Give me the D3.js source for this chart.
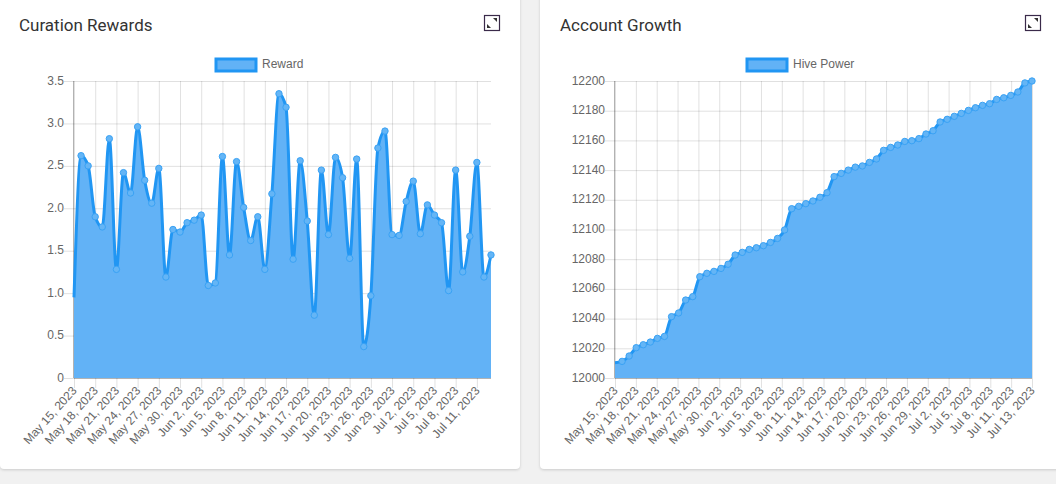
<!DOCTYPE html>
<html>
<head>
<meta charset="utf-8">
<script src="https://cdnjs.cloudflare.com/ajax/libs/d3/7.8.5/d3.min.js"></script>
<style>
html, body { margin: 0; padding: 0; background: #f1f1f1; overflow: hidden; }
.card { position: absolute; top: -10px; height: 479px; background: #fff; border-radius: 4px; box-shadow: 0 1px 3px rgba(0,0,0,0.16); }
svg { position: absolute; left: 0; top: 0; }
</style>
</head>
<body>
<div class="card" style="left:0;width:520px"></div>
<div class="card" style="left:540px;width:530px"></div>
<script>
const rewardValues = [
    0.95, 2.62, 2.50, 1.90, 1.78, 2.82, 1.28, 2.42, 2.18, 2.96,
    2.33, 2.06, 2.47, 1.19, 1.75, 1.72, 1.83, 1.86, 1.92, 1.09,
    1.12, 2.61, 1.45, 2.55, 2.01, 1.62, 1.90, 1.28, 2.17, 3.35,
    3.19, 1.40, 2.56, 1.85, 0.74, 2.45, 1.69, 2.60, 2.36, 1.41,
    2.58, 0.37, 0.97, 2.71, 2.91, 1.69, 1.68, 2.08, 2.32, 1.70,
    2.04, 1.92, 1.83, 1.03, 2.45, 1.25, 1.67, 2.54, 1.19, 1.45
];
const powerValues = [
    12010.3, 12011.2, 12014.8, 12020.4, 12022.4, 12024.2, 12026.7, 12028, 12041.3, 12043.8,
    12052.5, 12054.8, 12068.2, 12070.5, 12071.8, 12073.8, 12076.6, 12082.8, 12084.6, 12086.6,
    12087.7, 12089.1, 12091.3, 12094, 12099.7, 12114, 12115.6, 12117.4, 12119.2, 12121.7,
    12124.8, 12135.6, 12137.8, 12140, 12142, 12142.8, 12145.2, 12147.5, 12153.3, 12155.3,
    12156.9, 12159.3, 12159.8, 12161.2, 12164.3, 12166.5, 12172.4, 12174.2, 12176.2, 12178.2,
    12180.2, 12182, 12183.6, 12184.7, 12187.6, 12188.7, 12190.3, 12192.6, 12198.7, 12200
];
const rewardDates = [
    "May 15, 2023", "May 18, 2023", "May 21, 2023", "May 24, 2023", "May 27, 2023", "May 30, 2023",
    "Jun 2, 2023", "Jun 5, 2023", "Jun 8, 2023", "Jun 11, 2023", "Jun 14, 2023", "Jun 17, 2023",
    "Jun 20, 2023", "Jun 23, 2023", "Jun 26, 2023", "Jun 29, 2023", "Jul 2, 2023", "Jul 5, 2023",
    "Jul 8, 2023", "Jul 11, 2023"
];
const powerDates = rewardDates.concat(["Jul 13, 2023"]);
const rewardTicks = [0, 0.5, 1, 1.5, 2, 2.5, 3, 3.5];
const powerTicks = [12000, 12020, 12040, 12060, 12080, 12100, 12120, 12140, 12160, 12180, 12200];

const lineColor = "#2196f3";
const fillColor = "#62b2f6";
const textColor = "#666";
const chartFont = "'Liberation Sans', Arial, sans-serif";
const height = 297;
const width = 417;

const root = d3.select("body").append("svg")
.attr("width", 1056)
.attr("height", 484);

function drawChart(o) {
    const card = root.append("g").attr("transform", "translate(" + o.cardX + ",0)");

    card.append("text")
    .attr("x", o.titleX)
    .attr("y", 31)
    .text(o.title)
    .style("font-family", "Roboto, sans-serif")
    .style("font-size", "17px")
    .style("fill", "#333");

    // expand icon
    const icon = card.append("g").attr("transform", "translate(" + o.iconX + ",15)");
    icon.append("rect").attr("x", 0.5).attr("y", 0.5).attr("width", 15).attr("height", 15)
    .attr("fill", "#fff").attr("stroke", "#3a2a4a").attr("stroke-width", 1.2);
    icon.append("path").attr("d", "M9 3H13V7Z").attr("fill", "#333");
    icon.append("path").attr("d", "M3 9L7 13H3Z").attr("fill", "#333");

    // legend
    card.append("rect")
    .attr("x", o.legendX)
    .attr("y", 59)
    .attr("width", 40)
    .attr("height", 12)
    .attr("fill", fillColor)
    .attr("stroke", lineColor)
    .attr("stroke-width", 3);

    card.append("text")
    .attr("x", o.legendX + 46)
    .attr("y", 68)
    .text(o.series)
    .style("font-family", chartFont)
    .style("font-size", "12px")
    .style("fill", textColor);

    const svg = card.append("g").attr("transform", "translate(" + o.plotX + ",81)");

    const x = d3.scaleLinear().domain([0, o.values.length - 1]).range([0, width]);
    const y = d3.scaleLinear().domain(o.domain).range([height, 0]);

    svg.append("g")
    .attr("class", "grid")
    .call(d3.axisLeft(y).tickValues(o.yTicks).tickSize(-width).tickFormat(""))
    .call(g => g.select(".domain").remove())
    .call(g => g.selectAll("line").attr("stroke", "rgba(0,0,0,0.12)"));

    const xAxisScale = o.evenTicks
        ? d3.scalePoint().domain(o.dates).range([0, width])
        : d3.scaleOrdinal().domain(o.dates).range(o.dates.map((d, i) => x(i * 3)));

    const xAxis = d3.axisBottom(xAxisScale).tickValues(o.dates).tickSize(10).tickPadding(2);
    const xGrid = svg.append("g")
    .attr("transform", "translate(0," + height + ")")
    .call(xAxis);
    xGrid.select(".domain").remove();
    xGrid.selectAll("line")
    .attr("y1", -height)
    .attr("stroke", "rgba(0,0,0,0.12)");
    xGrid.selectAll("text")
    .attr("x", 0)
    .attr("y", 0)
    .attr("dy", 0)
    .attr("text-anchor", "end")
    .attr("transform", "translate(3,13) rotate(-48)")
    .style("font-family", chartFont)
    .style("font-size", "12px")
    .style("fill", textColor);

    const curve = d3.curveMonotoneX;

    const area = d3.area()
    .x((d, i) => x(i))
    .y0(height)
    .y1(d => y(d))
    .curve(curve);

    const line = d3.line()
    .x((d, i) => x(i))
    .y(d => y(d))
    .curve(curve);

    // axis line sits under the fill, only its left half shows
    const yAxis = svg.append("g")
    .call(d3.axisLeft(y).tickValues(o.yTicks).tickSize(10).tickPadding(0).tickFormat(o.yFormat));
    yAxis.select(".domain")
    .attr("d", "M-0.5,0V" + height)
    .attr("stroke", "rgba(0,0,0,0.3)");
    yAxis.selectAll("line").attr("stroke", "rgba(0,0,0,0.12)");
    yAxis.selectAll("text")
    .attr("dy", "0.25em")
    .style("font-family", chartFont)
    .style("font-size", "12px")
    .style("fill", textColor);

    svg.append("path")
    .datum(o.values)
    .attr("d", area)
    .attr("fill", fillColor);

    svg.append("path")
    .datum(o.values)
    .attr("d", line)
    .attr("fill", "none")
    .attr("stroke", lineColor)
    .attr("stroke-width", 3);

    // first point is not shown in the original
    svg.append("g")
    .selectAll("circle")
    .data(o.values.slice(1))
    .enter()
    .append("circle")
    .attr("cx", (d, i) => x(i + 1))
    .attr("cy", d => y(d))
    .attr("r", 3.2)
    .attr("fill", "#64b5f6")
    .attr("stroke", "#3aa2f4")
    .attr("stroke-width", 1);

    svg.append("line")
    .attr("x1", 0)
    .attr("x2", width)
    .attr("y1", height + 0.5)
    .attr("y2", height + 0.5)
    .attr("stroke", "rgba(0,0,0,0.2)");
}

drawChart({
    cardX: 0, plotX: 74, legendX: 216, titleX: 19, iconX: 484, title: "Curation Rewards", series: "Reward",
    values: rewardValues, dates: rewardDates, yTicks: rewardTicks, domain: [0, 3.5],
    yFormat: d => d === 0 ? "0" : d.toFixed(1), evenTicks: false
});

drawChart({
    cardX: 540, plotX: 75, legendX: 207, titleX: 20, iconX: 485, title: "Account Growth", series: "Hive Power",
    values: powerValues, dates: powerDates, yTicks: powerTicks, domain: [12000, 12200],
    yFormat: d => d, evenTicks: true
});
</script>
</body>
</html>
